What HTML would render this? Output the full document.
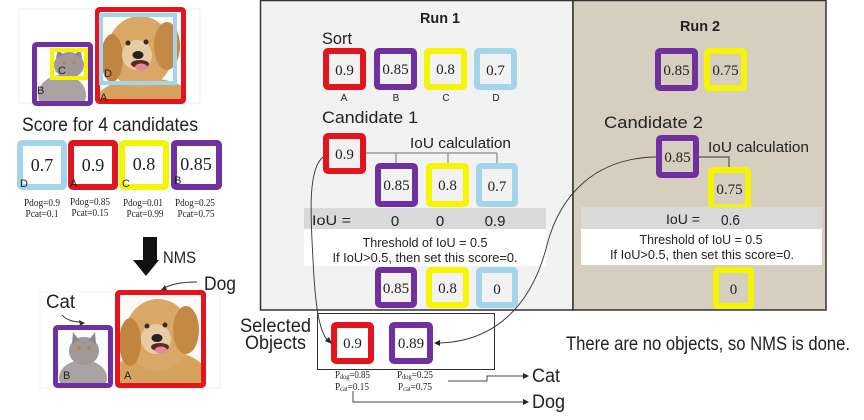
<!DOCTYPE html>
<html><head><meta charset="utf-8">
<style>
html,body{margin:0;padding:0;background:#fff;}
svg{display:block;}
.s{font-family:"Liberation Sans",sans-serif;fill:#222;}
.n{font-family:"Liberation Serif",serif;fill:#222;}
</style></head>
<body>
<svg width="864" height="420" viewBox="0 0 864 420" xmlns="http://www.w3.org/2000/svg">
<defs>
<clipPath id="cA"><rect x="97" y="9" width="86" height="93"/></clipPath>
<clipPath id="cB"><rect x="34" y="44" width="57" height="60"/></clipPath>
<clipPath id="cA2"><rect x="117" y="292" width="86" height="94"/></clipPath>
<clipPath id="cB2"><rect x="55" y="327" width="56" height="59"/></clipPath>
</defs>
<rect x="0" y="0" width="864" height="420" fill="#fff"/>

<!-- ===== top-left image ===== -->
<rect x="19" y="9" width="181" height="94" fill="#fff" stroke="#eeeeee" stroke-width="1"/>
<g clip-path="url(#cA)">
  <rect x="97" y="9" width="86" height="93" fill="#fbfaf8"/>
  <ellipse cx="145" cy="100" rx="48" ry="22" fill="#d6a35e"/>
  <ellipse cx="140" cy="52" rx="33" ry="36" fill="#d9a866"/>
  <ellipse cx="112" cy="58" rx="11" ry="24" fill="#c08540"/>
  <ellipse cx="167" cy="46" rx="13" ry="24" fill="#c48a45"/>
  <ellipse cx="137" cy="55" rx="15" ry="15" fill="#e6cca4"/>
  <circle cx="128" cy="43" r="2.5" fill="#3a2a1a"/>
  <circle cx="146" cy="42" r="2.5" fill="#3a2a1a"/>
  <ellipse cx="138" cy="55" rx="5.5" ry="4" fill="#222"/>
  <ellipse cx="140" cy="64" rx="9" ry="4" fill="#5a2a2a"/>
  <ellipse cx="141" cy="67" rx="6" ry="3.5" fill="#e58a98"/>
</g>
<g clip-path="url(#cB)">
  <rect x="34" y="44" width="57" height="60" fill="#fbfbfb"/>
  <ellipse cx="62" cy="95" rx="24" ry="20" fill="#aaa3a4"/>
  <ellipse cx="69" cy="65" rx="15" ry="13" fill="#a09899"/>
  <polygon points="56,58 58,48 63,55" fill="#8f8789"/>
  <polygon points="82,58 80,48 75,55" fill="#8f8789"/>
  <circle cx="64" cy="63" r="1.8" fill="#c8832a"/>
  <circle cx="74" cy="63" r="1.8" fill="#c8832a"/>
</g>
<rect x="97.5" y="9.5" width="86" height="92" fill="none" stroke="#e3141b" stroke-width="5" rx="2"/>
<rect x="101" y="15" width="74" height="68" fill="none" stroke="#a3d4ea" stroke-width="4"/>
<rect x="34.5" y="44.5" width="56" height="59" fill="none" stroke="#7030a0" stroke-width="5" rx="2"/>
<rect x="52" y="50" width="34" height="28" fill="none" stroke="#f5f500" stroke-width="4"/>
<text class="s" x="58" y="74" font-size="11">C</text>
<text class="s" x="37" y="94" font-size="11">B</text>
<text class="s" x="104" y="77" font-size="11">D</text>
<text class="s" x="100" y="101" font-size="11">A</text>

<text class="s" x="22" y="131" font-size="19" textLength="176" lengthAdjust="spacingAndGlyphs">Score for 4 candidates</text>

<!-- score boxes -->
<rect x="20" y="143" width="44" height="44" fill="#fff" stroke="#a3d4ea" stroke-width="6" rx="2"/>
<rect x="71" y="143" width="44" height="44" fill="#fff" stroke="#e3141b" stroke-width="6" rx="2"/>
<rect x="122" y="143" width="44" height="44" fill="#fff" stroke="#f5f500" stroke-width="6" rx="2"/>
<rect x="174" y="143" width="45" height="44" fill="#fff" stroke="#7030a0" stroke-width="6" rx="2"/>
<text class="n" x="42" y="171" font-size="18" text-anchor="middle">0.7</text>
<text class="n" x="93" y="171" font-size="18" text-anchor="middle">0.9</text>
<text class="n" x="144" y="170" font-size="18" text-anchor="middle">0.8</text>
<text class="n" x="196" y="170" font-size="18" text-anchor="middle">0.85</text>
<text class="s" x="20" y="187" font-size="11">D</text>
<text class="s" x="70" y="187" font-size="11">A</text>
<text class="s" x="122" y="187" font-size="11">C</text>
<text class="s" x="174" y="184" font-size="11">B</text>
<text class="n" x="42" y="206" font-size="10" text-anchor="middle" textLength="36" lengthAdjust="spacingAndGlyphs">Pdog=0.9</text>
<text class="n" x="42" y="217" font-size="10" text-anchor="middle" textLength="33" lengthAdjust="spacingAndGlyphs">Pcat=0.1</text>
<text class="n" x="90" y="205" font-size="10" text-anchor="middle" textLength="40" lengthAdjust="spacingAndGlyphs">Pdog=0.85</text>
<text class="n" x="90" y="216" font-size="10" text-anchor="middle" textLength="37" lengthAdjust="spacingAndGlyphs">Pcat=0.15</text>
<text class="n" x="143" y="206" font-size="10" text-anchor="middle" textLength="40" lengthAdjust="spacingAndGlyphs">Pdog=0.01</text>
<text class="n" x="145" y="217" font-size="10" text-anchor="middle" textLength="37" lengthAdjust="spacingAndGlyphs">Pcat=0.99</text>
<text class="n" x="195" y="206" font-size="10" text-anchor="middle" textLength="40" lengthAdjust="spacingAndGlyphs">Pdog=0.25</text>
<text class="n" x="196" y="217" font-size="10" text-anchor="middle" textLength="37" lengthAdjust="spacingAndGlyphs">Pcat=0.75</text>

<!-- NMS arrow -->
<rect x="143" y="237" width="14" height="24" fill="#111"/>
<polygon points="133,260 159,260 146,276" fill="#111"/>
<text class="s" x="163" y="263" font-size="17" textLength="33" lengthAdjust="spacingAndGlyphs">NMS</text>

<!-- bottom-left image -->
<rect x="40" y="292" width="180" height="96" fill="#fff" stroke="#f0f0f0" stroke-width="1"/>
<text class="s" x="204" y="290" font-size="19" textLength="32" lengthAdjust="spacingAndGlyphs">Dog</text>
<path d="M197,282 C182,282 170,284 163,289" fill="none" stroke="#333" stroke-width="1"/>
<polygon points="160,291 165,285 167,290" fill="#333"/>
<text class="s" x="46" y="308" font-size="19" textLength="29" lengthAdjust="spacingAndGlyphs">Cat</text>
<path d="M62,315 C66,320 74,322 81,322" fill="none" stroke="#333" stroke-width="1"/>
<polygon points="85,323 79,320 80,326" fill="#333"/>
<g clip-path="url(#cA2)">
  <rect x="117" y="292" width="86" height="94" fill="#fbfaf8"/>
  <ellipse cx="160" cy="378" rx="48" ry="28" fill="#d6a35e"/>
  <ellipse cx="158" cy="335" rx="33" ry="36" fill="#d9a866"/>
  <ellipse cx="130" cy="342" rx="11" ry="24" fill="#c08540"/>
  <ellipse cx="186" cy="330" rx="13" ry="24" fill="#c48a45"/>
  <ellipse cx="156" cy="339" rx="15" ry="15" fill="#e6cca4"/>
  <circle cx="147" cy="326" r="2.5" fill="#3a2a1a"/>
  <circle cx="165" cy="325" r="2.5" fill="#3a2a1a"/>
  <ellipse cx="157" cy="338" rx="5.5" ry="4" fill="#222"/>
  <ellipse cx="160" cy="347" rx="9" ry="4" fill="#5a2a2a"/>
  <ellipse cx="161" cy="350" rx="6" ry="3.5" fill="#e58a98"/>
</g>
<g clip-path="url(#cB2)">
  <rect x="55" y="327" width="56" height="59" fill="#fbfbfb"/>
  <ellipse cx="83" cy="378" rx="24" ry="18" fill="#aaa3a4"/>
  <ellipse cx="84" cy="351" rx="15" ry="14" fill="#a09899"/>
  <polygon points="72,344 73,332 79,340" fill="#8f8789"/>
  <polygon points="96,344 95,332 89,340" fill="#8f8789"/>
  <circle cx="79" cy="348" r="1.8" fill="#c8832a"/>
  <circle cx="89" cy="348" r="1.8" fill="#c8832a"/>
</g>
<rect x="117.5" y="292.5" width="86" height="93" fill="none" stroke="#e3141b" stroke-width="5" rx="2"/>
<rect x="55.5" y="327.5" width="55" height="58" fill="none" stroke="#7030a0" stroke-width="5" rx="2"/>
<text class="s" x="63" y="379" font-size="11">B</text>
<text class="s" x="124" y="379" font-size="11">A</text>

<!-- ===== Run 1 panel ===== -->
<rect x="260.5" y="0.5" width="312.5" height="309.5" fill="#f2f2f2" stroke="#333" stroke-width="1.5"/>
<!-- ===== Run 2 panel ===== -->
<rect x="573" y="0.5" width="253" height="309.5" fill="#d6cfbf" stroke="#333" stroke-width="1.5"/>

<text class="s" x="440" y="23" font-size="15" font-weight="bold" text-anchor="middle" textLength="40" lengthAdjust="spacingAndGlyphs">Run 1</text>
<text class="s" x="322" y="44" font-size="17" textLength="30" lengthAdjust="spacingAndGlyphs">Sort</text>

<rect x="326" y="51" width="37" height="36" fill="none" stroke="#e3141b" stroke-width="6" rx="2"/>
<rect x="377" y="51" width="37" height="36" fill="none" stroke="#7030a0" stroke-width="6" rx="2"/>
<rect x="427" y="51" width="37" height="36" fill="none" stroke="#f5f500" stroke-width="6" rx="2"/>
<rect x="477" y="51" width="37" height="36" fill="none" stroke="#a3d4ea" stroke-width="6" rx="2"/>
<text class="n" x="344.5" y="75" font-size="15" text-anchor="middle">0.9</text>
<text class="n" x="395.5" y="74" font-size="15" text-anchor="middle">0.85</text>
<text class="n" x="445.5" y="74" font-size="15" text-anchor="middle">0.8</text>
<text class="n" x="495.5" y="75" font-size="15" text-anchor="middle">0.7</text>
<text class="s" x="344" y="101" font-size="10" text-anchor="middle">A</text>
<text class="s" x="396" y="101" font-size="10" text-anchor="middle">B</text>
<text class="s" x="446" y="101" font-size="10" text-anchor="middle">C</text>
<text class="s" x="496" y="101" font-size="10" text-anchor="middle">D</text>

<text class="s" x="322" y="123" font-size="17" textLength="96" lengthAdjust="spacingAndGlyphs">Candidate 1</text>
<text class="s" x="410" y="148" font-size="15" textLength="101" lengthAdjust="spacingAndGlyphs">IoU calculation</text>

<path d="M366,153 H497 M396,153 V164 M448,153 V164 M497,153 V164" fill="none" stroke="#8a8a8a" stroke-width="1.2"/>
<rect x="326" y="136" width="37" height="35" fill="none" stroke="#e3141b" stroke-width="6" rx="2"/>
<text class="n" x="344.5" y="159" font-size="15" text-anchor="middle">0.9</text>

<rect x="378" y="166" width="37" height="38" fill="none" stroke="#7030a0" stroke-width="6" rx="2"/>
<rect x="429" y="166" width="37" height="38" fill="none" stroke="#f5f500" stroke-width="6" rx="2"/>
<rect x="479" y="166" width="36" height="38" fill="none" stroke="#a3d4ea" stroke-width="6" rx="2"/>
<text class="n" x="396.5" y="190" font-size="15" text-anchor="middle">0.85</text>
<text class="n" x="447.5" y="190" font-size="15" text-anchor="middle">0.8</text>
<text class="n" x="497" y="191" font-size="15" text-anchor="middle">0.7</text>

<rect x="304" y="208" width="242" height="21" fill="#d9d9d9"/>
<rect x="304" y="229" width="242" height="37" fill="#ffffff"/>
<text class="s" x="312" y="225" font-size="14" textLength="39" lengthAdjust="spacingAndGlyphs">IoU =</text>
<text class="s" x="395" y="226" font-size="15" text-anchor="middle">0</text>
<text class="s" x="440" y="226" font-size="15" text-anchor="middle">0</text>
<text class="s" x="495" y="226" font-size="15" text-anchor="middle">0.9</text>
<text class="s" x="425" y="247" font-size="13" text-anchor="middle" textLength="125" lengthAdjust="spacingAndGlyphs">Threshold of IoU = 0.5</text>
<text class="s" x="425" y="262" font-size="13" text-anchor="middle" textLength="185" lengthAdjust="spacingAndGlyphs">If IoU&gt;0.5, then set this score=0.</text>

<rect x="378" y="270" width="36" height="35" fill="none" stroke="#7030a0" stroke-width="6" rx="2"/>
<rect x="429" y="270" width="37" height="35" fill="none" stroke="#f5f500" stroke-width="6" rx="2"/>
<rect x="479" y="270" width="36" height="35" fill="none" stroke="#a3d4ea" stroke-width="6" rx="2"/>
<text class="n" x="396" y="293" font-size="15" text-anchor="middle">0.85</text>
<text class="n" x="447.5" y="293" font-size="15" text-anchor="middle">0.8</text>
<text class="n" x="497" y="294" font-size="15" text-anchor="middle">0</text>

<!-- Run 2 content -->
<text class="s" x="700" y="31" font-size="15" font-weight="bold" text-anchor="middle" textLength="40" lengthAdjust="spacingAndGlyphs">Run 2</text>
<rect x="658" y="51" width="37" height="37" fill="none" stroke="#7030a0" stroke-width="6" rx="2"/>
<rect x="707" y="51" width="37" height="37" fill="none" stroke="#f5f500" stroke-width="6" rx="2"/>
<text class="n" x="676.5" y="75" font-size="15" text-anchor="middle">0.85</text>
<text class="n" x="725.5" y="75" font-size="15" text-anchor="middle">0.75</text>

<text class="s" x="604" y="128" font-size="17" textLength="99" lengthAdjust="spacingAndGlyphs">Candidate 2</text>
<text class="s" x="708" y="152" font-size="15" textLength="101" lengthAdjust="spacingAndGlyphs">IoU calculation</text>
<path d="M699,157 H729 V168" fill="none" stroke="#555" stroke-width="1.2"/>
<rect x="659" y="138" width="37" height="37" fill="none" stroke="#7030a0" stroke-width="6" rx="2"/>
<text class="n" x="677.5" y="162" font-size="15" text-anchor="middle">0.85</text>
<rect x="711" y="170" width="37" height="37" fill="none" stroke="#f5f500" stroke-width="6" rx="2"/>
<text class="n" x="729.5" y="194" font-size="15" text-anchor="middle">0.75</text>

<rect x="581" y="207" width="241" height="22" fill="#d9d9d9"/>
<rect x="581" y="229" width="241" height="36" fill="#ffffff"/>
<text class="s" x="666" y="224" font-size="14" textLength="34" lengthAdjust="spacingAndGlyphs">IoU =</text>
<text class="s" x="721" y="225" font-size="15" textLength="19" lengthAdjust="spacingAndGlyphs">0.6</text>
<text class="s" x="701" y="244" font-size="13" text-anchor="middle" textLength="123" lengthAdjust="spacingAndGlyphs">Threshold of IoU = 0.5</text>
<text class="s" x="702" y="259" font-size="13" text-anchor="middle" textLength="184" lengthAdjust="spacingAndGlyphs">If IoU&gt;0.5, then set this score=0.</text>
<rect x="716" y="270" width="35" height="36" fill="none" stroke="#f5f500" stroke-width="6" rx="2"/>
<text class="n" x="733.5" y="294" font-size="15" text-anchor="middle">0</text>

<text class="s" x="566" y="350" font-size="19" textLength="284" lengthAdjust="spacingAndGlyphs">There are no objects, so NMS is done.</text>

<!-- Selected objects -->
<text class="s" x="240" y="332" font-size="19" textLength="71" lengthAdjust="spacingAndGlyphs">Selected</text>
<text class="s" x="245" y="349" font-size="19" textLength="61" lengthAdjust="spacingAndGlyphs">Objects</text>
<rect x="317.5" y="313.5" width="177" height="56" fill="#fff" stroke="#333" stroke-width="1"/>
<rect x="334" y="325" width="37" height="36" fill="none" stroke="#e3141b" stroke-width="6" rx="2"/>
<rect x="392" y="325" width="38" height="36" fill="none" stroke="#7030a0" stroke-width="6" rx="2"/>
<text class="n" x="352.5" y="348" font-size="15" text-anchor="middle">0.9</text>
<text class="n" x="411" y="348" font-size="15" text-anchor="middle">0.89</text>

<text class="n" x="335" y="378" font-size="10" textLength="35" lengthAdjust="spacingAndGlyphs">P<tspan font-size="7" dy="1">dog</tspan><tspan dy="-1">=0.85</tspan></text>
<text class="n" x="335" y="390" font-size="10" textLength="34" lengthAdjust="spacingAndGlyphs">P<tspan font-size="7" dy="1">cat</tspan><tspan dy="-1">=0.15</tspan></text>
<text class="n" x="397" y="378" font-size="10" textLength="36" lengthAdjust="spacingAndGlyphs">P<tspan font-size="7" dy="1">dog</tspan><tspan dy="-1">=0.25</tspan></text>
<text class="n" x="398" y="390" font-size="10" textLength="34" lengthAdjust="spacingAndGlyphs">P<tspan font-size="7" dy="1">cat</tspan><tspan dy="-1">=0.75</tspan></text>

<path d="M448,381 H487 V376 H524" fill="none" stroke="#444" stroke-width="1"/>
<polygon points="529,376 523,373 523,379" fill="#222"/>
<path d="M353,391 V402 H524" fill="none" stroke="#444" stroke-width="1"/>
<polygon points="529,402 523,399 523,405" fill="#222"/>
<text class="s" x="532" y="382" font-size="19" textLength="28" lengthAdjust="spacingAndGlyphs">Cat</text>
<text class="s" x="532" y="408" font-size="19" textLength="33" lengthAdjust="spacingAndGlyphs">Dog</text>

<!-- curves -->
<path d="M323,157 C307,170 311,220 313,260 C315,300 318,330 328,341" fill="none" stroke="#333" stroke-width="0.9"/>
<polygon points="332,344 325,341 329,337" fill="#222"/>
<path d="M656,157 C595,158 560,195 547,245 C532,305 495,342 438,343" fill="none" stroke="#333" stroke-width="0.9"/>
<polygon points="434,343 440,340 440,346" fill="#222"/>
</svg>
</body></html>
